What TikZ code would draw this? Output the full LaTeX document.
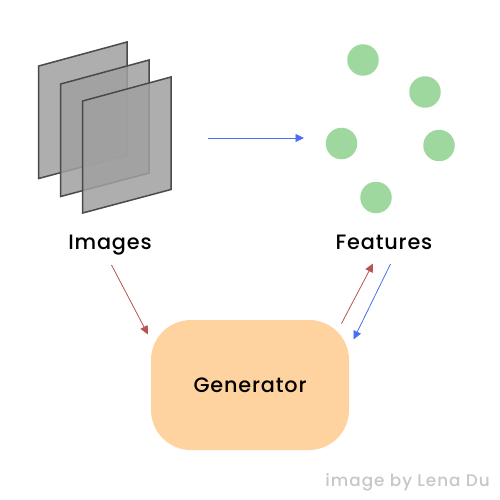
\documentclass[tikz,border=0pt]{standalone}
\usepackage{fontspec}
\setmainfont{Poppins Medium}[LetterSpace=4]
\newfontfamily\creditfont{Poppins Medium}[LetterSpace=6]
\usetikzlibrary{arrows.meta}
\definecolor{plategrey}{HTML}{A0A0A0}
\definecolor{plateedge}{HTML}{4A4A4A}
\definecolor{featgreen}{HTML}{9FD89F}
\definecolor{genorange}{HTML}{FFD39F}
\definecolor{arrred}{HTML}{B85450}
\definecolor{arrblue}{HTML}{4C6EF5}
\tikzset{
  plate/.style={draw=plateedge,line width=1.5pt,fill=plategrey,fill opacity=0.85,line join=miter},
  feature/.style={circle,fill=featgreen,minimum size=31.5pt,inner sep=0pt},
  label/.style={font=\fontsize{20.8}{23}\selectfont,text=black,inner sep=0pt,anchor=base},
  link/.style={line width=0.75pt,-{Triangle[length=8.5pt,width=8pt]}},
  redlink/.style={link,draw=arrred,fill=arrred},
  bluelink/.style={link,draw=arrblue,fill=arrblue}
}
\begin{document}
\begin{tikzpicture}[x=1pt,y=-1pt]
\useasboundingbox (0,0) rectangle (500,500);
\fill[white] (0,0) rectangle (500,500);
\draw[plate] (38.7,66) -- (127,42) -- (127,155) -- (38.7,178.5) -- cycle;
\draw[plate] (60.7,84) -- (149,60) -- (149,173) -- (60.7,196.5) -- cycle;
\draw[plate] (82.7,101) -- (171,77) -- (171,189.5) -- (82.7,213) -- cycle;
\node[feature] (f1) at (363,60) {};
\node[feature] (f2) at (425,92) {};
\node[feature] (f3) at (341.5,143.5) {};
\node[feature] (f4) at (439,145.5) {};
\node[feature] (f5) at (376,197.5) {};
\node[label] (images) at (110,249.5) {Images};
\node[label] (features) at (384,249.5) {Features};
\node[fill=genorange,rounded corners=40pt,minimum width=198pt,minimum height=130pt,inner sep=0pt,text height=14pt,text depth=0pt,font=\fontsize{20.8}{23}\selectfont] (gen) at (250,385) {Generator};
\node[anchor=east,inner sep=0pt,text=black!22,font=\creditfont\fontsize{16.8}{19}\selectfont] (credit) at (490,482) {image by Lena Du};
\coordinate (a1) at (208,138);
\coordinate (a2) at (304,138);
\coordinate (b1) at (111.5,265);
\coordinate (b2) at (148,334.5);
\coordinate (c1) at (341.5,323.5);
\coordinate (c2) at (373,263.5);
\coordinate (d1) at (390.5,264);
\coordinate (d2) at (353.5,339.5);
\draw[bluelink] (a1) -- (a2);
\draw[redlink] (b1) -- (b2);
\draw[redlink] (c1) -- (c2);
\draw[bluelink] (d1) -- (d2);
\end{tikzpicture}
\end{document}
